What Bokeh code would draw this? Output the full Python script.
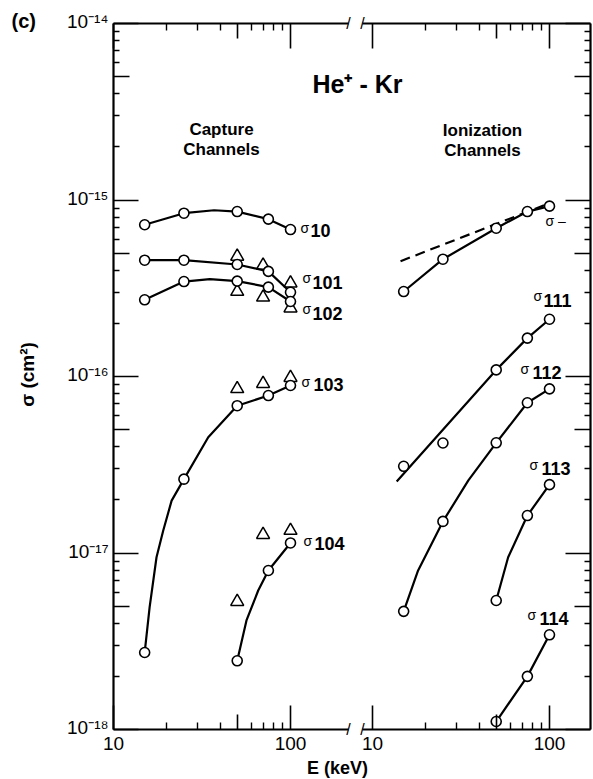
from bokeh.plotting import figure
from bokeh.models import Range1d, LogScale, LogAxis, FixedTicker, Label
from bokeh.embed import file_html
from bokeh.resources import INLINE
import math

# ---------------- data (E in keV, sigma in cm^2) ----------------
# Capture channels (left panel)
E_cap = [15, 25, 50, 75, 100]
s10_pts = [7.24e-16, 8.42e-16, 8.60e-16, 7.79e-16, 6.80e-16]
s101_pts = [4.56e-16, 4.56e-16, 4.31e-16, 3.94e-16, 3.00e-16]
s102_pts = [2.72e-16, 3.45e-16, 3.47e-16, 3.21e-16, 2.66e-16]
s103_pts = [2.73e-18, 2.62e-17, 6.83e-17, 7.80e-17, 8.89e-17]
E_104 = [50, 75, 100]
s104_pts = [2.45e-18, 7.96e-18, 1.14e-17]

# fitted curves as drawn
s10_curve_E = [15, 25, 37, 50, 75, 100]
s10_curve = [7.24e-16, 8.42e-16, 8.75e-16, 8.60e-16, 7.79e-16, 6.80e-16]
s101_curve_E = [15, 25, 50, 75, 100]
s101_curve = [4.56e-16, 4.56e-16, 4.31e-16, 3.94e-16, 3.00e-16]
s102_curve_E = [15, 25, 35, 50, 75, 100]
s102_curve = [2.72e-16, 3.45e-16, 3.56e-16, 3.47e-16, 3.21e-16, 2.66e-16]
s103_curve_E = [15, 16.0, 17.5, 19.1, 21.3, 25, 34.3, 50, 75, 100]
s103_curve = [2.73e-18, 4.93e-18, 9.46e-18, 1.34e-17, 1.98e-17, 2.62e-17, 4.53e-17, 6.83e-17, 7.80e-17, 8.89e-17]
s104_curve_E = [50, 56.4, 65.7, 75, 100]
s104_curve = [2.45e-18, 4.15e-18, 6.13e-18, 7.96e-18, 1.14e-17]

# triangles (second data set)
E_tri = [50, 70, 100]
s101_tri = [4.79e-16, 4.26e-16, 3.38e-16]
s102_tri = [3.03e-16, 2.81e-16, 2.44e-16]
s103_tri = [8.51e-17, 9.10e-17, 9.84e-17]
s104_tri = [5.30e-18, 1.27e-17, 1.34e-17]

# Ionization channels (right panel)
E_ion = [15, 25, 50, 75, 100]
sminus_pts = [3.03e-16, 4.62e-16, 6.92e-16, 8.60e-16, 9.23e-16]
sminus_dash_E = [14.4, 95]
sminus_dash = [4.50e-16, 9.40e-16]
s111_pts = [3.10e-17, 4.20e-17, 1.09e-16, 1.65e-16, 2.11e-16]
s111_line_E = [13.7, 50, 75, 100]
s111_line = [2.54e-17, 1.09e-16, 1.65e-16, 2.11e-16]
s112_pts = [4.67e-18, 1.51e-17, 4.21e-17, 7.10e-17, 8.51e-17]
s112_curve_E = [15, 18.1, 25, 34.8, 50, 75, 100]
s112_curve = [4.67e-18, 7.96e-18, 1.51e-17, 2.58e-17, 4.21e-17, 7.10e-17, 8.51e-17]
E_113 = [50, 75, 100]
s113_pts = [5.38e-18, 1.63e-17, 2.44e-17]
s113_curve_E = [50, 58.4, 75, 100]
s113_curve = [5.38e-18, 9.46e-18, 1.63e-17, 2.44e-17]
E_114 = [50, 75, 100]
s114_pts = [1.11e-18, 2.00e-18, 3.44e-18]

# axis ticks and labels
y_decades = [1e-18, 1e-17, 1e-16, 1e-15, 1e-14]
y_decade_labels = ["10⁻¹⁸", "10⁻¹⁷", "10⁻¹⁶", "10⁻¹⁵", "10⁻¹⁴"]
y_fives = [5e-18, 5e-17, 5e-16, 5e-15]
y_minor = [k * d for d in [1e-18, 1e-17, 1e-16, 1e-15] for k in (2, 3, 4, 6, 7, 8, 9)]
x_decades = [10, 100]
x_decade_labels = ["10", "100"]
x_fives = [50]
x_minor = [20, 30, 40, 60, 70, 80, 90]

# ---------------- layout (page pixels) ----------------
W, H = 593, 779
PX_X, PX_Y = 177.0, 176.5          # pixels per decade
F_LEFT, F_TOP, F_RIGHT, F_BOTTOM = 113, 23, 590, 729   # drawn axes box
ION10 = 372                        # page x of "10" on the right panel
LEFT_BREAK, ION_START = 348, 362   # page x of the axis break ends

# the plot frame fills the whole canvas; the axes box is drawn inside it
x_left = Range1d(10 ** (1 - F_LEFT / PX_X), 10 ** (1 + (W - F_LEFT) / PX_X))
x_ion = Range1d(10 ** (1 - ION10 / PX_X), 10 ** (1 + (W - ION10) / PX_X))
y_rng = Range1d(10 ** (-18 - (H - F_BOTTOM) / PX_Y), 10 ** (-14 + F_TOP / PX_Y))

x_box_right = 10 ** (1 + (F_RIGHT - F_LEFT) / PX_X)
left_bounds = (10, 10 ** (1 + (LEFT_BREAK - F_LEFT) / PX_X))
ion_bounds = (10 ** (1 - (ION10 - ION_START) / PX_X), 10 ** (1 + (F_RIGHT - ION10) / PX_X))
y0, y1 = 1e-18, 1e-14
y_bounds = (y0, y1)

p = figure(width=W, height=H, output_backend="svg", toolbar_location=None, title=None,
           x_range=x_left, y_range=y_rng,
           x_axis_type="log", y_axis_type="log",
           x_axis_location=None, y_axis_location=None,
           min_border_left=0, min_border_right=0, min_border_top=0, min_border_bottom=0)
p.x_scale = LogScale()
p.y_scale = LogScale()
p.extra_x_ranges = {"ion": x_ion}
p.extra_x_scales = {"ion": LogScale()}
p.xgrid.visible = False
p.ygrid.visible = False
p.outline_line_color = None
p.background_fill_color = "white"
p.border_fill_color = "white"

FONT = "Liberation Sans"


def add_axis(side, ticks, minor, tick_in, minor_in, loc, bounds, range_name="default", line=True):
    ax = LogAxis(ticker=FixedTicker(ticks=ticks, minor_ticks=minor),
                 fixed_location=loc, bounds=bounds,
                 major_tick_in=tick_in, major_tick_out=0,
                 minor_tick_in=minor_in, minor_tick_out=0,
                 major_tick_line_width=1.6, minor_tick_line_width=1.4,
                 major_tick_line_color="black", minor_tick_line_color="black",
                 axis_line_width=2.2, axis_line_color="black" if line else None,
                 major_label_text_color=None)
    if side in ("below", "above"):
        ax.x_range_name = range_name
    p.add_layout(ax, side)


# sigma axes
add_axis("left", y_decades, y_minor, 25, 6, 10, y_bounds)
add_axis("left", y_fives, [], 16, 0, 10, y_bounds, line=False)
add_axis("right", y_decades, y_minor, 25, 6, x_box_right, y_bounds)
add_axis("right", y_fives, [], 16, 0, x_box_right, y_bounds, line=False)
# energy axes, both panels
for rn, bnd in (("default", left_bounds), ("ion", ion_bounds)):
    add_axis("below", x_decades, x_minor, 24, 7, y0, bnd, range_name=rn)
    add_axis("below", x_fives, [], 15, 0, y0, bnd, range_name=rn, line=False)
    add_axis("above", x_decades, x_minor, 25, 7, y1, bnd, range_name=rn)
    add_axis("above", x_fives, [], 15, 0, y1, bnd, range_name=rn, line=False)

# tick labels, placed at the tick values
for v, t in zip(y_decades, y_decade_labels):
    p.add_layout(Label(x=10, y=v, x_offset=-5, y_offset=2, text=t, text_font=FONT,
                       text_font_size="19px", text_align="right",
                       text_baseline="middle", text_color="black"))
for rn in ("default", "ion"):
    for v, t in zip(x_decades, x_decade_labels):
        p.add_layout(Label(x=v, y=y0, x_range_name=rn, y_offset=-7, text=t, text_font=FONT,
                           text_font_size="19px", text_align="center",
                           text_baseline="top", text_color="black"))

# ---------------- marks ----------------
LW = 2.2
for s in (s101_tri, s102_tri, s103_tri, s104_tri):
    p.scatter(E_tri, s, marker="triangle", size=13, fill_color=None,
              line_color="black", line_width=1.5)

for ex, ey in ((s10_curve_E, s10_curve), (s101_curve_E, s101_curve),
               (s102_curve_E, s102_curve), (s103_curve_E, s103_curve),
               (s104_curve_E, s104_curve)):
    p.line(ex, ey, line_color="black", line_width=LW)

for ex, ey in ((E_ion, sminus_pts), (s111_line_E, s111_line),
               (s112_curve_E, s112_curve), (s113_curve_E, s113_curve),
               (E_114, s114_pts)):
    p.line(ex, ey, line_color="black", line_width=LW, x_range_name="ion")
p.line(sminus_dash_E, sminus_dash, line_color="black", line_width=LW,
       line_dash="10 6", x_range_name="ion")

CIRC = dict(marker="circle", size=10, fill_color="white", line_color="black", line_width=1.6)
for ex, ey in ((E_cap, s10_pts), (E_cap, s101_pts), (E_cap, s102_pts),
               (E_cap, s103_pts), (E_104, s104_pts)):
    p.scatter(ex, ey, **CIRC)
for ex, ey in ((E_ion, sminus_pts), (E_ion, s111_pts), (E_ion, s112_pts),
               (E_113, s113_pts), (E_114, s114_pts)):
    p.scatter(ex, ey, x_range_name="ion", **CIRC)

# ---------------- texts ----------------


def page_text(text, sx, sy, size, bold=True, align="center", angle=0.0):
    # anchored at the top-left corner of the axes box, shifted in pixels
    p.add_layout(Label(x=10, y=y1, x_offset=sx - F_LEFT, y_offset=-(sy - F_TOP), text=text,
                       text_font=FONT, text_font_size=f"{size}px",
                       text_font_style="bold" if bold else "normal",
                       text_align=align, text_baseline="middle", angle=angle,
                       text_color="black"))


page_text("(c)", 11, 20, 20, align="left")
page_text("He⁺ - Kr", 357, 83, 25)
page_text("Capture", 221, 129, 17)
page_text("Channels", 221, 149, 17)
page_text("Ionization", 482, 130, 17)
page_text("Channels", 482, 150, 17)
page_text("E (keV)", 337, 767, 18)
page_text("σ (cm²)", 27, 374, 19, angle=math.pi / 2)

# break marks on the energy axis
for bx, rn in ((left_bounds[1], "default"), (ion_bounds[0], "ion")):
    for by in (y0, y1):
        p.add_layout(Label(x=bx, y=by, x_range_name=rn, text="/", text_font=FONT,
                           text_font_size="16px", text_align="center",
                           text_baseline="middle", text_color="black"))

# curve labels: (sigma-sign offset, number offset) in pixels from the last point
curve_labels = [
    ("10", 100, s10_pts[-1], "default", (10, -2), (20, 1)),
    ("101", 100, s101_pts[-1], "default", (12, -14), (22, -10)),
    ("102", 100, s102_pts[-1], "default", (12, 7), (22, 12)),
    ("103", 100, s103_pts[-1], "default", (11, -4), (23, -1)),
    ("104", 100, s104_pts[-1], "default", (13, -2), (24, 1)),
    ("111", 100, s111_pts[-1], "ion", (-16, -23), (-6, -19)),
    ("112", 100, s112_pts[-1], "ion", (-29, -20), (-17, -16)),
    ("113", 100, s113_pts[-1], "ion", (-20, -20), (-8, -16)),
    ("114", 100, s114_pts[-1], "ion", (-22, -20), (-10, -16)),
]
for num, ex, ey, rn, (sdx, sdy), (ndx, ndy) in curve_labels:
    p.add_layout(Label(x=ex, y=ey, x_range_name=rn, x_offset=sdx, y_offset=-sdy,
                       text="σ", text_font=FONT, text_font_size="14px",
                       text_align="left", text_baseline="middle", text_color="black"))
    p.add_layout(Label(x=ex, y=ey, x_range_name=rn, x_offset=ndx, y_offset=-ndy,
                       text=num, text_font=FONT, text_font_size="18px",
                       text_font_style="bold", text_align="left",
                       text_baseline="middle", text_color="black"))
p.add_layout(Label(x=100, y=sminus_pts[-1], x_range_name="ion", x_offset=-4, y_offset=-15,
                   text="σ –", text_font=FONT, text_font_size="14px",
                   text_align="left", text_baseline="middle", text_color="black"))

open("out.html", "w").write(file_html(p, INLINE))
